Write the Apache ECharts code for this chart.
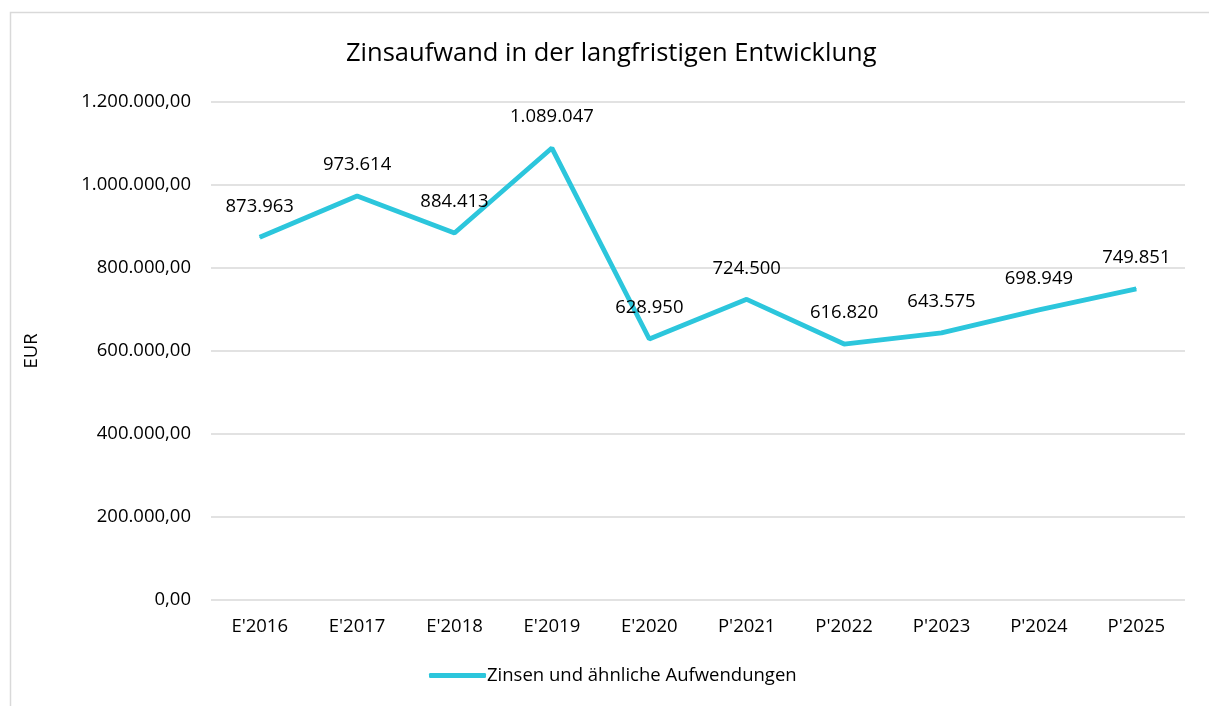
<!DOCTYPE html>
<html><head><meta charset="utf-8">
<script src="https://cdn.jsdelivr.net/npm/echarts@6/dist/echarts.min.js"></script>
<style>html,body{margin:0;padding:0;background:#fff}#c{width:1209px;height:706px}</style>
</head><body><div id="c"></div>
<script>
const categories = ["E'2016","E'2017","E'2018","E'2019","E'2020","P'2021","P'2022","P'2023","P'2024","P'2025"];
const values = [873963, 973614, 884413, 1089047, 628950, 724500, 616820, 643575, 698949, 749851];
const seriesName = 'Zinsen und ähnliche Aufwendungen';
const titleText = 'Zinsaufwand in der langfristigen Entwicklung';

function deNum(v, dec){
  const fixed = v.toFixed(dec);
  let [i, d] = fixed.split('.');
  i = i.replace(/\B(?=(\d{3})+(?!\d))/g, '.');
  return d ? i + ',' + d : i;
}
const FONT = 'Open Sans';
const FS = 18.5;
const COLOR = '#2CC6DC';
const chart = echarts.init(document.getElementById('c'));
chart.setOption({
  animation: false,
  backgroundColor: '#fff',
  graphic: [{type:'rect', shape:{x:10.5,y:12.5,width:1300,height:800}, style:{fill:'none', stroke:'#d9d9d9', lineWidth:1.5}, silent:true}],
  title: {text: titleText, left: 341, top: 36, textStyle:{fontFamily:FONT, fontSize:25.5, fontWeight:'normal', color:'#000'}},
  legend: {bottom: 16, left: 424, itemWidth: 57, itemHeight: 5, itemGap: 4,
    textStyle:{fontFamily:FONT, fontSize:FS, color:'#000', padding:[0,0,0,-4]},
    data:[{name: seriesName, icon:'roundRect', itemStyle:{color:COLOR}}]},
  grid: {left: 211, right: 24, top: 102, bottom: 106},
  xAxis: {type:'category', data: categories, boundaryGap: true,
    axisLine:{show:false}, axisTick:{show:false},
    axisLabel:{fontFamily:FONT, fontSize:FS, color:'#000', margin:17}},
  yAxis: {type:'value', min:0, max:1200000, interval:200000,
    name:'EUR', nameLocation:'middle', nameGap:170, nameRotate:90,
    nameTextStyle:{fontFamily:FONT, fontSize:FS, color:'#000'},
    axisLine:{show:false}, axisTick:{show:false},
    splitLine:{lineStyle:{color:'#d9d9d9', width:1.5}},
    axisLabel:{fontFamily:FONT, fontSize:FS, color:'#000', margin:20, formatter:v=>deNum(v,2)}},
  series: [{name: seriesName, type:'line', data: values, symbol:'circle', symbolSize:1, showSymbol:true,
    lineStyle:{color:COLOR, width:4.8}, itemStyle:{color:COLOR},
    label:{show:true, position:'top', distance:21, fontFamily:FONT, fontSize:FS, color:'#000', formatter:p=>deNum(p.value,0)}}]
});
</script></body></html>
